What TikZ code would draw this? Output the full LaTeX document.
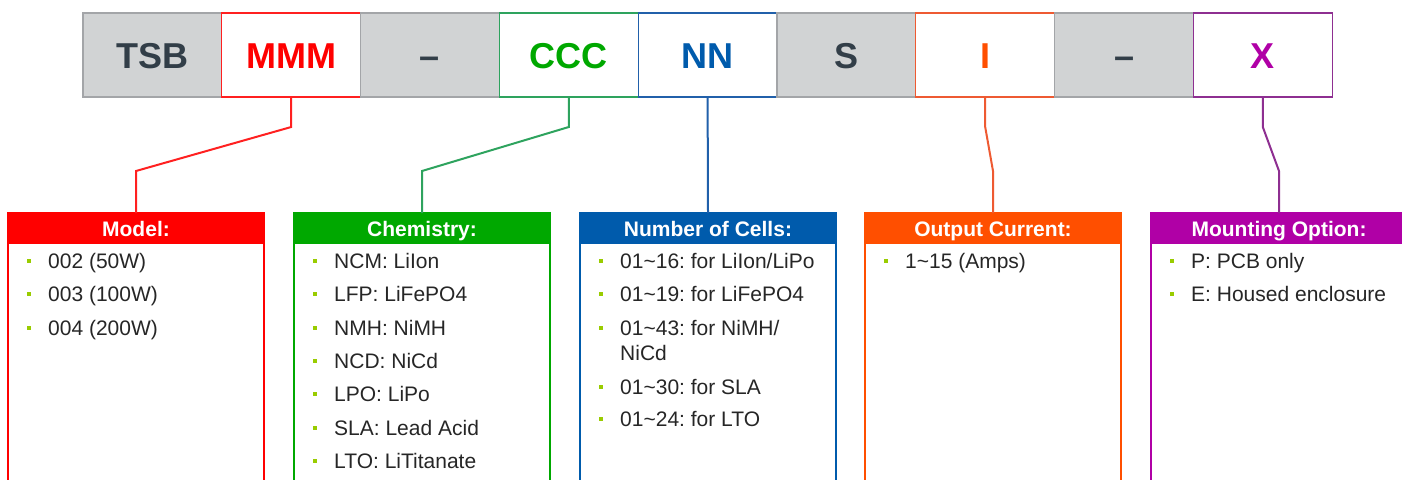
\documentclass[tikz,border=0pt]{standalone}
\usepackage{fontspec}
\setmainfont{Liberation Sans}
\usetikzlibrary{positioning}
\definecolor{cellgray}{HTML}{D1D3D4}
\definecolor{cellrule}{HTML}{A3A5A8}
\definecolor{darkslate}{HTML}{323E48}
\definecolor{bodytext}{HTML}{262626}
\definecolor{bulletgreen}{HTML}{99CC00}
\definecolor{modelred}{HTML}{FF0000}
\definecolor{modelline}{HTML}{FF2020}
\definecolor{chemgreen}{HTML}{00A800}
\definecolor{chemline}{HTML}{2EA35E}
\definecolor{cellblue}{HTML}{005BAC}
\definecolor{cellline}{HTML}{2160AA}
\definecolor{curorange}{HTML}{FF4F00}
\definecolor{curline}{HTML}{EE5A32}
\definecolor{mountpurple}{HTML}{B000A6}
\definecolor{mountline}{HTML}{8E2F91}
\newcommand{\tl}{\textasciitilde}
\frenchspacing

\tikzset{
  codecell/.style={draw=cellrule, fill=cellgray, line width=1.2pt,
    minimum width=138.8pt, minimum height=84pt, inner sep=0pt, outer sep=0pt,
    text height=26pt, text depth=0pt, text=darkslate,
    font=\fontsize{36}{40}\selectfont\bfseries},
  keycell/.style 2 args={codecell, fill=white, draw=#1, text=#2},
  catbox/.style={draw=#1, line width=2.5pt, minimum width=256pt,
    minimum height=280pt, inner sep=0pt, outer sep=0pt, anchor=north},
  cathead/.style={fill=#1, minimum width=258.5pt, minimum height=31pt,
    inner sep=0pt, outer sep=0pt, anchor=north, text=white,
    text height=15pt, text depth=0pt, font=\fontsize{21}{25}\selectfont\bfseries},
  item/.style={anchor=base west, inner sep=0pt, text=bodytext,
    font=\fontsize{21}{25}\selectfont},
  bullet/.style={fill=bulletgreen, minimum size=4pt, inner sep=0pt},
  link/.style={draw=#1, line width=2pt},
}

\begin{document}
\begin{tikzpicture}[x=1pt,y=-1pt]
  \useasboundingbox (0,0) rectangle (1402,479);
  \clip (0,0) rectangle (1402,479);

  % part number bar
  \node[codecell] (TSB) at (152.4,55) {TSB};
  \node[keycell={modelline}{modelred}, right=0pt of TSB] (MMM) {MMM};
  \node[codecell, right=0pt of MMM] (DashA) {--};
  \node[keycell={chemline}{chemgreen}, right=0pt of DashA] (CCC) {CCC};
  \node[keycell={cellline}{cellblue}, right=0pt of CCC] (NN) {NN};
  \node[codecell, right=0pt of NN] (S) {S};
  \node[keycell={curline}{curorange}, right=0pt of S] (I) {I};
  \node[codecell, right=0pt of I] (DashB) {--};
  \node[keycell={mountline}{mountpurple}, right=0pt of DashB] (X) {X};

  % option boxes
  \node[catbox=modelred] (Model) at (136,213) {};
  \node[cathead=modelred] (ModelHd) at (Model.north) {Model:};
  \node[catbox=chemgreen] (Chem) at (422,213) {};
  \node[cathead=chemgreen] (ChemHd) at (Chem.north) {Chemistry:};
  \node[catbox=cellblue] (Cells) at (708,213) {};
  \node[cathead=cellblue] (CellsHd) at (Cells.north) {Number of Cells:};
  \node[catbox=curorange] (Curr) at (993,213) {};
  \node[cathead=curorange] (CurrHd) at (Curr.north) {Output Current:};
  \node[catbox=mountpurple] (Mount) at (1279,213) {};
  \node[cathead=mountpurple] (MountHd) at (Mount.north) {Mounting Option:};

  % connectors
  \draw[link=modelline] (MMM.south) -- ++(0,30) -- ([yshift=42pt]ModelHd.north) -- (ModelHd.north);
  \draw[link=chemline] (CCC.south) -- ++(0,30) -- ([yshift=42pt]ChemHd.north) -- (ChemHd.north);
  \draw[link=cellline] (NN.south) -- (CellsHd.north);
  \draw[link=curline] (I.south) -- ++(0,30) -- ([yshift=42pt]CurrHd.north) -- (CurrHd.north);
  \draw[link=mountline] (X.south) -- ++(0,30) -- ([yshift=42pt]MountHd.north) -- (MountHd.north);

  % items
  \foreach \y/\t [count=\i] in {268/002 (50W), 301/003 (100W), 335/004 (200W)} {
    \node[item] (ModelIt\i) at (48,\y) {\t};
    \node[bullet] at ([xshift=-19pt,yshift=7pt]ModelIt\i.base west) {};
  }
  \foreach \y/\t [count=\i] in {268/NCM: LiIon, 301/LFP: LiFePO4, 335/NMH: NiMH,
      368/NCD: NiCd, 401/LPO: LiPo, 435/SLA: Lead Acid, 468/LTO: LiTitanate} {
    \node[item] (ChemIt\i) at (334,\y) {\t};
    \node[bullet] at ([xshift=-19pt,yshift=7pt]ChemIt\i.base west) {};
  }
  \foreach \y/\t [count=\i] in {268/{01\tl16: for LiIon/LiPo}, 301/{01\tl19: for LiFePO4},
      335/{01\tl43: for NiMH/}, 394/{01\tl30: for SLA}, 426/{01\tl24: for LTO}} {
    \node[item] (CellsIt\i) at (620,\y) {\t};
    \node[bullet] at ([xshift=-19pt,yshift=7pt]CellsIt\i.base west) {};
  }
  \node[item] (CellsIt3b) at (620,360) {NiCd};
  \node[item] (CurrIt1) at (905,268) {1\tl15 (Amps)};
  \node[bullet] at ([xshift=-19pt,yshift=7pt]CurrIt1.base west) {};
  \foreach \y/\t [count=\i] in {268/P: PCB only, 301/E: Housed enclosure} {
    \node[item] (MountIt\i) at (1191,\y) {\t};
    \node[bullet] at ([xshift=-19pt,yshift=7pt]MountIt\i.base west) {};
  }
\end{tikzpicture}
\end{document}
